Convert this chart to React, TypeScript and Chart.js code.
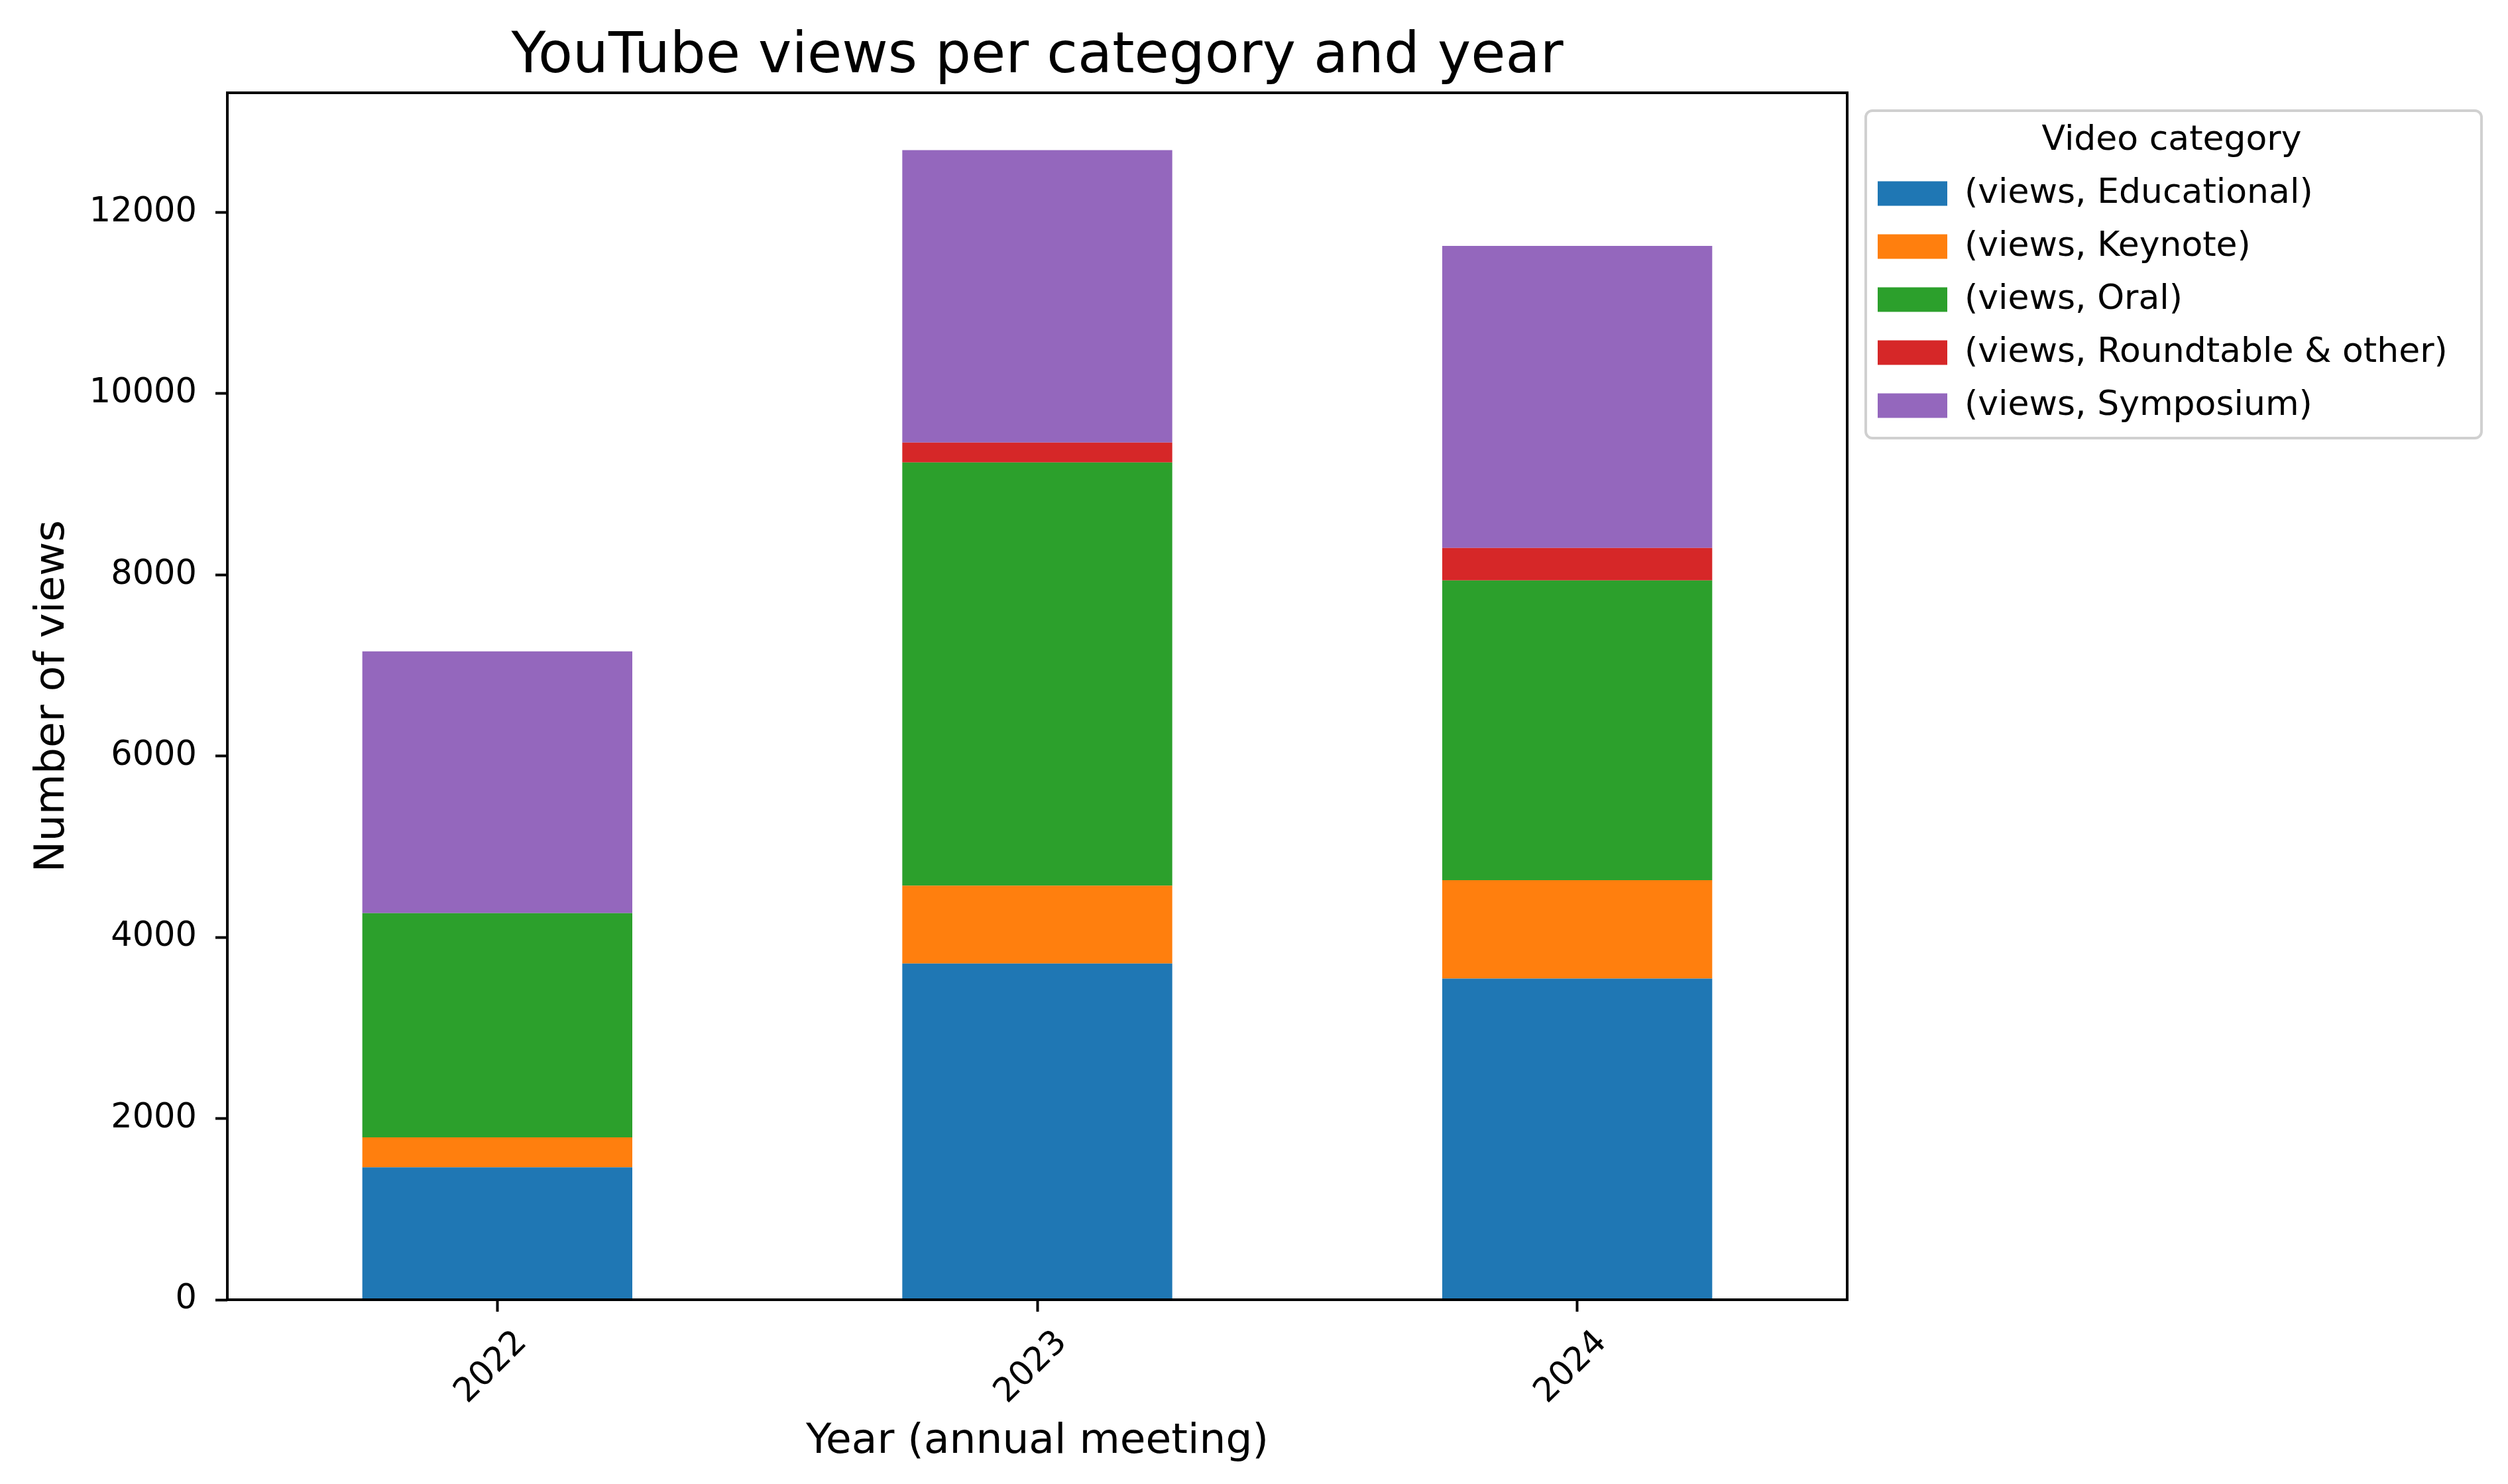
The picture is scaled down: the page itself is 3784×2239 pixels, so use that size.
import React, { useEffect, useRef } from 'react';
import { Chart, registerables } from 'chart.js';

Chart.register(...registerables);

// Data
const years = ['2022', '2023', '2024'];
const educational = [1462, 3710, 3544];
const keynote = [330, 860, 1086];
const oral = [2475, 4670, 3308];
const roundtable = [0, 220, 358];
const symposium = [2888, 3227, 3335];

const seriesLabels = [
  '(views, Educational)',
  '(views, Keynote)',
  '(views, Oral)',
  '(views, Roundtable & other)',
  '(views, Symposium)',
];
const seriesColors = ['#1f77b4', '#ff7f0e', '#2ca02c', '#d62728', '#9467bd'];

const yTicks = [0, 2000, 4000, 6000, 8000, 10000, 12000];
const yMax = 13320;

const FONT = "'DejaVu Sans', sans-serif";

// Four-sided black frame round the plot area, like matplotlib spines
const axesFrame = {
  id: 'axesFrame',
  afterDatasetsDraw(chart: any) {
    const { ctx, chartArea: a } = chart;
    ctx.save();
    ctx.strokeStyle = '#000';
    ctx.lineWidth = 4;
    ctx.strokeRect(a.left, a.top, a.right - a.left, a.bottom - a.top);
    ctx.restore();
  },
};

// Keep the legend a fixed width on the right and give it a rounded frame
const legendBox = {
  id: 'legendBox',
  beforeInit(chart: any) {
    const legend = chart.legend;
    if (!legend) return;
    const fit = legend.fit;
    legend.fit = function () {
      fit.call(this);
      this.width = 997;
    };
  },
  afterLayout(chart: any) {
    const legend = chart.legend;
    legend.left += 18;
    legend.right += 18;
    legend.width = 943;
  },
  beforeDraw(chart: any) {
    const legend = chart.legend;
    const boxes = legend.legendHitBoxes;
    if (!boxes || !boxes.length) return;
    const last = boxes[boxes.length - 1];
    const x = legend.left + 10;
    const y = legend.top + 27;
    const w = 929;
    const h = last.top + last.height + 23 - y;
    const r = 10;
    const { ctx } = chart;
    ctx.save();
    ctx.beginPath();
    ctx.moveTo(x + r, y);
    ctx.arcTo(x + w, y, x + w, y + h, r);
    ctx.arcTo(x + w, y + h, x, y + h, r);
    ctx.arcTo(x, y + h, x, y, r);
    ctx.arcTo(x, y, x + w, y, r);
    ctx.closePath();
    ctx.fillStyle = '#ffffff';
    ctx.fill();
    ctx.strokeStyle = '#d0d0d0';
    ctx.lineWidth = 4;
    ctx.stroke();
    ctx.restore();
  },
};

const App: React.FC = () => {
  const canvasRef = useRef<HTMLCanvasElement>(null);
  const chartRef = useRef<Chart | null>(null);

  useEffect(() => {
    document.body.style.margin = '0';
    if (!canvasRef.current) return;

    const series = [educational, keynote, oral, roundtable, symposium];

    chartRef.current = new Chart(canvasRef.current, {
      type: 'bar',
      data: {
        labels: years,
        datasets: series.map((values, i) => ({
          label: seriesLabels[i],
          data: values,
          backgroundColor: seriesColors[i],
          borderWidth: 0,
          barPercentage: 0.5,
          categoryPercentage: 1.0,
        })),
      },
      options: {
        animation: false,
        responsive: true,
        maintainAspectRatio: false,
        events: [],
        layout: { padding: 0 },
        plugins: {
          title: {
            display: true,
            text: 'YouTube views per category and year',
            fullSize: false,
            color: '#000',
            font: { family: FONT, size: 85, weight: 'normal', lineHeight: 1.2 },
            padding: { top: 36, bottom: 2 },
          },
          legend: {
            display: true,
            position: 'right',
            align: 'start',
            fullSize: false,
            labels: {
              color: '#000',
              font: { family: FONT, size: 52 },
              boxWidth: 105,
              boxHeight: 37,
              padding: 28,
            },
            title: {
              display: true,
              text: 'Video category',
              color: '#000',
              font: { family: FONT, size: 52, lineHeight: 1 },
              padding: { top: 46, bottom: 0 },
            },
          },
          tooltip: { enabled: false },
        },
        scales: {
          x: {
            stacked: true,
            afterFit: (scale: any) => {
              scale.height = 278;
            },
            title: {
              display: true,
              text: 'Year (annual meeting)',
              color: '#000',
              font: { family: FONT, size: 63 },
              padding: { top: 0, bottom: 26 },
            },
            ticks: {
              color: '#000',
              font: { family: FONT, size: 51 },
              minRotation: 45,
              maxRotation: 45,
              autoSkip: false,
              padding: 17,
              labelOffset: 37,
            },
            grid: {
              display: true,
              offset: false,
              drawOnChartArea: false,
              drawTicks: true,
              tickLength: 18,
              tickWidth: 4,
              tickColor: '#000',
            },
            border: { display: false },
          },
          y: {
            stacked: true,
            min: 0,
            max: yMax,
            afterFit: (scale: any) => {
              scale.width = 343;
            },
            afterBuildTicks: (scale: any) => {
              scale.ticks = yTicks.map((v) => ({ value: v }));
            },
            title: {
              display: true,
              text: 'Number of views',
              color: '#000',
              font: { family: FONT, size: 63 },
              padding: { top: 42, bottom: 0 },
            },
            ticks: {
              color: '#000',
              font: { family: FONT, size: 51 },
              padding: 28,
              callback: (value: any) => String(value),
            },
            grid: {
              display: true,
              drawOnChartArea: false,
              drawTicks: true,
              tickLength: 18,
              tickWidth: 4,
              tickColor: '#000',
            },
            border: { display: false },
          },
        },
      } as any,
      plugins: [axesFrame, legendBox],
    });

    return () => {
      if (chartRef.current) {
        chartRef.current.destroy();
        chartRef.current = null;
      }
    };
  }, []);

  return (
    <div style={{ width: 3784, height: 2239, position: 'relative', background: '#fff' }}>
      <canvas ref={canvasRef}></canvas>
    </div>
  );
};

export default App;
